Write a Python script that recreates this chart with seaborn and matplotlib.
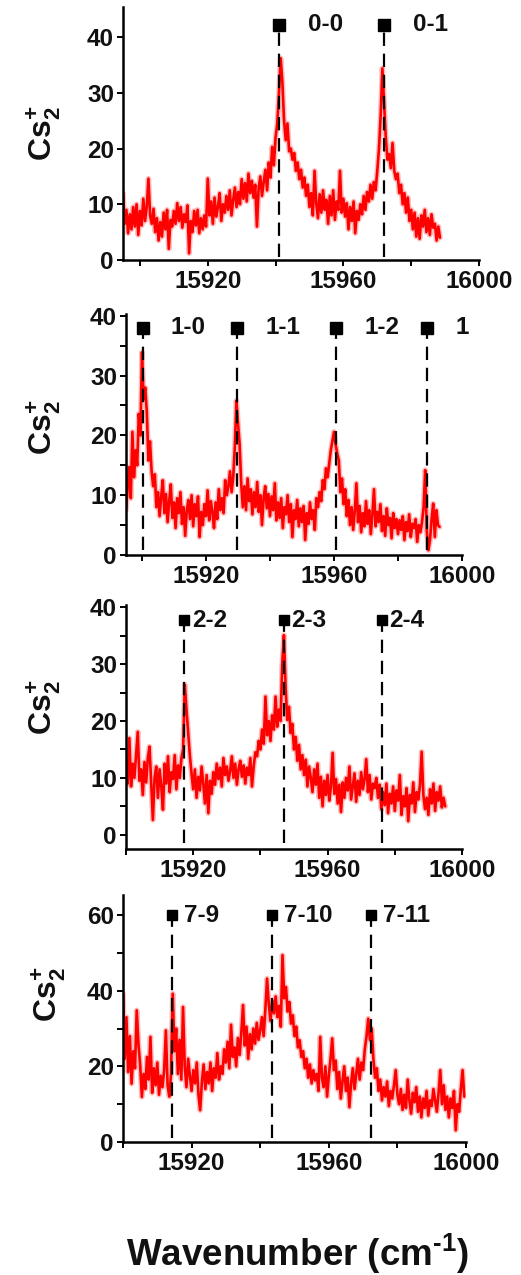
import numpy as np
import pandas as pd
import matplotlib
matplotlib.use("Agg")
import matplotlib.pyplot as plt
import seaborn as sns

# ---------------------------------------------------------------- data
# Cs2+ ion signal recorded on a uniform wavenumber grid (0.5 cm^-1 steps)
step = 0.5

p1_start = 15895.0
p1_signal = [
    12.0, 6.5, 9.0, 4.8, 8.2, 5.5, 9.5, 6.0, 10.0, 4.5,
    8.8, 6.2, 11.0, 7.0, 9.5, 14.6, 8.0, 6.5, 9.2, 5.0,
    7.5, 3.5, 6.8, 4.2, 8.5, 5.5, 9.0, 2.0, 7.2, 6.0,
    8.8, 6.5, 10.2, 7.0, 9.5, 5.8, 8.2, 6.8, 9.8, 1.2,
    7.0, 5.0, 8.8, 6.2, 9.0, 4.8, 7.5, 5.5, 8.0, 6.0,
    14.6, 8.0, 10.5, 6.5, 11.2, 7.8, 9.5, 12.0, 7.0, 10.0,
    8.5, 11.5, 9.0, 12.5, 8.0, 10.8, 13.0, 9.5, 12.2, 10.0,
    14.5, 11.0, 13.8, 10.5, 15.5, 12.0, 14.2, 11.2, 13.5, 6.0,
    12.8, 15.0, 11.5, 14.0, 16.2, 12.5, 17.5, 14.8, 20.3, 17.0,
    22.0, 24.5, 30.0, 36.2, 32.0, 25.0, 21.5, 24.5, 19.5, 20.0,
    18.0, 19.2, 16.0, 17.5, 14.5, 16.2, 13.0, 14.8, 11.5, 13.5,
    9.5, 12.0, 8.0, 16.0, 10.2, 7.5, 11.8, 8.5, 12.5, 9.0,
    10.8, 6.5, 11.5, 8.0, 12.5, 7.2, 10.5, 9.0, 16.0, 8.5,
    11.0, 7.8, 10.2, 5.5, 9.5, 7.0, 10.5, 4.8, 8.8, 7.2,
    10.0, 8.2, 11.5, 9.0, 12.2, 10.5, 13.5, 11.0, 14.0, 12.5,
    16.0, 20.0, 26.0, 34.4, 28.0, 22.0, 18.0, 19.0, 16.5, 21.0,
    16.0, 14.5, 15.5, 12.0, 13.5, 10.0, 12.0, 8.5, 11.2, 7.0,
    9.0, 5.5, 8.5, 4.2, 7.5, 3.8, 8.0, 6.0, 9.0, 5.0,
    7.5, 4.5, 8.2, 5.8, 6.5, 3.5, 6.0, 4.0,
]

p2_start = 15895.0
p2_signal = [
    7.5, 11.0, 14.7, 9.5, 20.6, 13.0, 17.5, 15.0, 23.6, 20.0,
    33.9, 26.0, 28.0, 24.0, 15.8, 19.0, 14.0, 11.5, 13.5, 8.0,
    10.5, 6.5, 9.8, 12.5, 7.0, 10.2, 5.5, 9.0, 11.8, 6.2,
    8.8, 4.5, 9.5, 7.0, 10.5, 5.2, 8.0, 3.2, 7.5, 9.2,
    6.0, 10.0, 4.8, 8.5, 6.5, 9.8, 3.0, 7.2, 5.0, 8.5,
    6.5, 10.8, 5.8, 9.0, 7.2, 4.5, 8.8, 6.0, 11.0, 7.5,
    9.5, 7.0, 12.5, 10.0, 11.5, 14.0, 10.5, 13.0, 18.0, 25.8,
    22.0, 18.6, 12.0, 8.0, 11.5, 7.5, 12.8, 9.0, 11.0, 6.8,
    10.5, 8.0, 12.2, 7.2, 10.0, 5.0, 9.5, 11.5, 7.8, 10.2,
    6.5, 9.8, 7.5, 12.0, 5.8, 8.8, 6.2, 9.5, 4.5, 8.0,
    6.8, 10.0, 5.5, 8.5, 3.0, 7.5, 6.0, 9.2, 4.8, 7.8,
    5.5, 8.2, 2.5, 7.0, 5.2, 8.8, 6.0, 7.5, 4.2, 9.5,
    8.0, 10.5, 9.0, 12.5, 11.0, 14.5, 13.0, 15.3, 17.5, 19.0,
    20.6, 18.5, 17.0, 15.8, 10.5, 12.8, 8.5, 11.0, 6.5, 9.2,
    5.0, 8.0, 4.2, 7.5, 12.0, 5.5, 8.2, 3.8, 7.0, 4.8,
    9.0, 5.2, 7.5, 3.5, 6.8, 11.0, 4.8, 7.2, 5.5, 8.5,
    4.0, 6.5, 3.2, 7.8, 5.0, 6.2, 2.8, 7.0, 4.5, 6.0,
    3.5, 5.8, 4.2, 6.5, 2.5, 5.5, 4.0, 6.8, 3.0, 5.2,
    4.5, 6.0, 2.2, 5.0, 3.8, 5.5, 8.0, 14.2, 4.0, 0.8,
    2.5, 6.0, 8.6, 3.0, 7.5, 5.0, 4.7,
]

p3_start = 15900.0
p3_signal = [
    13.0, 9.0, 17.0, 8.5, 12.5, 10.0, 14.0, 18.1, 9.5, 11.5,
    7.0, 12.8, 9.2, 13.5, 15.5, 9.0, 2.6, 10.0, 12.0, 6.5,
    11.5, 8.5, 4.4, 12.5, 9.0, 13.8, 7.5, 11.0, 9.8, 14.0,
    8.0, 12.2, 10.0, 13.5, 15.0, 26.4, 22.0, 17.9, 14.0, 10.8,
    8.0, 11.5, 6.5, 10.2, 7.8, 12.0, 9.0, 5.5, 10.5, 3.8,
    9.5, 7.2, 11.0, 8.8, 12.5, 9.8, 11.8, 8.5, 13.5, 10.5,
    12.0, 9.5, 11.2, 13.8, 10.0, 12.5, 8.8, 11.5, 13.0, 10.2,
    12.2, 9.0, 11.8, 10.5, 13.5, 8.5, 12.0, 14.5, 13.8, 16.5,
    15.0, 18.5, 16.0, 24.3, 17.5, 20.0, 16.5, 21.0, 18.5, 24.3,
    19.0, 22.0, 20.0, 30.0, 35.1, 26.0, 20.2, 22.5, 17.9, 19.5,
    15.0, 17.2, 13.0, 15.8, 11.5, 14.0, 10.5, 13.2, 8.5, 12.0,
    10.0, 7.5, 11.5, 8.8, 12.5, 6.5, 10.2, 5.0, 9.5, 7.0,
    10.5, 6.0, 8.5, 14.4, 7.2, 9.8, 5.5, 8.8, 4.0, 9.2,
    6.5, 10.0, 7.8, 12.0, 6.2, 8.5, 10.8, 5.8, 9.5, 7.0,
    11.0, 8.0, 9.8, 13.3, 7.5, 10.5, 6.2, 9.0, 8.2, 10.0,
    6.5, 8.8, 4.5, 7.5, 5.2, 9.0, 3.8, 7.2, 5.5, 8.5,
    4.2, 7.8, 6.0, 10.5, 3.5, 6.8, 5.0, 8.2, 2.4, 7.0,
    5.5, 9.2, 4.0, 7.5, 6.2, 8.8, 14.6, 7.0, 4.5, 6.5,
    3.5, 8.0, 5.5, 9.0, 4.2, 7.5, 6.0, 8.5, 4.8, 6.5, 5.0,
]

p4_start = 15900.0
p4_signal = [
    39.2, 22.0, 33.0, 18.5, 28.0, 15.4, 24.0, 19.5, 34.8, 26.0,
    20.5, 11.9, 18.0, 14.0, 22.5, 16.5, 27.8, 13.0, 19.5, 15.0,
    21.0, 12.5, 17.5, 14.5, 19.0, 29.5, 15.0, 12.0, 18.0, 39.2,
    24.0, 30.0, 18.0, 27.0, 16.5, 35.7, 20.0, 14.5, 22.0, 17.5,
    13.5, 19.0, 15.5, 21.0, 12.5, 8.4, 16.0, 20.5, 14.0, 18.5,
    15.5, 21.0, 13.5, 19.5, 17.0, 23.5, 16.5, 20.0, 18.0, 24.5,
    21.0, 26.5, 19.5, 31.0, 22.5, 25.0, 20.0, 27.5, 23.0, 29.0,
    36.2, 25.5, 30.5, 22.0, 28.5, 24.5, 30.0, 26.0, 31.5, 27.0,
    29.5, 33.0, 28.0, 35.0, 43.2, 36.5, 32.0, 37.5, 34.0, 38.5,
    33.0, 36.0, 30.5, 49.4, 38.0, 41.0, 34.5, 37.0, 31.3, 33.5,
    28.0, 30.5, 25.0, 26.9, 22.5, 24.0, 19.5, 22.0, 17.0, 20.5,
    15.5, 19.0, 16.3, 18.0, 13.5, 27.8, 17.0, 14.5, 20.0, 12.0,
    17.5, 22.0, 27.4, 19.0, 21.5, 14.0, 18.5, 11.5, 16.0, 20.0,
    13.5, 17.0, 9.2, 15.5, 19.5, 14.0, 18.0, 22.0, 16.5, 21.0,
    19.0, 24.5, 28.0, 32.6, 27.0, 30.0, 22.0, 17.0, 19.5, 13.5,
    16.5, 11.0, 14.5, 12.0, 16.0, 9.5, 13.5, 11.5, 15.0, 19.0,
    12.5, 10.0, 14.0, 8.5, 12.5, 9.0, 16.5, 11.0, 7.5, 13.0,
    10.5, 14.5, 8.0, 12.0, 6.5, 11.5, 9.0, 13.5, 7.0, 11.0,
    9.5, 14.0, 11.0, 8.0, 13.0, 19.0, 10.0, 15.0, 8.5, 12.0,
    6.5, 11.5, 9.0, 13.5, 3.1, 10.0, 8.0, 14.0, 19.0, 12.0,
]

# band-head assignments (v'-v") and their positions in cm^-1
p1_lines = [15941.1, 15972.0]
p1_names = ["0-0", "0-1"]
p2_lines = [15900.2, 15929.8, 15960.7, 15989.2]
p2_names = ["1-0", "1-1", "1-2", "1"]
p3_lines = [15917.4, 15946.9, 15976.2]
p3_names = ["2-2", "2-3", "2-4"]
p4_lines = [15914.4, 15943.3, 15972.2]
p4_names = ["7-9", "7-10", "7-11"]

# y-range and y ticks of each panel
p1_ylim, p1_yticks, p1_ymarks = (0, 45.4), [0, 10, 20, 30, 40], 42.2
p2_ylim, p2_yticks, p2_ymarks = (0, 40.3), [0, 10, 20, 30, 40], 38.0
p3_ylim, p3_yticks, p3_ymarks = (-2.5, 40.4), [0, 10, 20, 30, 40], 37.7
p4_ylim, p4_yticks, p4_ymarks = (0, 65.3), [0, 20, 40, 60], 60.0

x_major = [15920, 15960, 16000]
x_minor = [15900, 15940, 15980]

# ---------------------------------------------------------------- style
sns.set_theme(style="ticks")
plt.rcParams["font.family"] = ["Liberation Sans", "DejaVu Sans"]
plt.rcParams["font.weight"] = "bold"
plt.rcParams["mathtext.fontset"] = "custom"
plt.rcParams["mathtext.rm"] = "Liberation Sans:bold"
plt.rcParams["mathtext.bf"] = "Liberation Sans:bold"
plt.rcParams["mathtext.it"] = "Liberation Sans:bold"

W, H = 521, 1275
fig = plt.figure(figsize=(W / 100, H / 100), dpi=100)
ink = "#111111"


def add_axes_px(left, right, top, bottom):
    return fig.add_axes([left / W, 1 - bottom / H, (right - left) / W, (bottom - top) / H])


panels = [
    dict(box=(123, 479, 7, 260), start=p1_start, sig=p1_signal, xlim=(15895, 16000),
         ylim=p1_ylim, yticks=p1_yticks, yminor=[], lines=p1_lines, names=p1_names,
         ymark=p1_ymarks, gap=8.6, msize=9, vbottom=0.5, lab=(63, 0.50)),
    dict(box=(126, 462, 314, 555), start=p2_start, sig=p2_signal, xlim=(15895, 16000),
         ylim=p2_ylim, yticks=p2_yticks, yminor=[5, 15, 25, 35], lines=p2_lines,
         names=p2_names, ymark=p2_ymarks, gap=8.8, msize=8.5, vbottom=0.8, lab=(63, 0.53)),
    dict(box=(126, 462, 605, 849), start=p3_start, sig=p3_signal, xlim=(15900, 16000),
         ylim=p3_ylim, yticks=p3_yticks, yminor=[5, 15, 25, 35], lines=p3_lines,
         names=p3_names, ymark=p3_ymarks, gap=2.2, msize=7, vbottom=-1.4, lab=(63, 0.58)),
    dict(box=(123, 466, 895, 1142), start=p4_start, sig=p4_signal, xlim=(15900, 16000),
         ylim=p4_ylim, yticks=p4_yticks, yminor=[10, 30, 50], lines=p4_lines,
         names=p4_names, ymark=p4_ymarks, gap=3.5, msize=7.5, vbottom=1.0, lab=(68, 0.60)),
]

for p in panels:
    ax = add_axes_px(*p["box"])
    sig = np.asarray(p["sig"], dtype=float)
    wn = p["start"] + step * np.arange(sig.size)
    df = pd.DataFrame({"wavenumber": wn, "signal": sig})
    # soft halo under the trace, then the trace itself
    sns.lineplot(data=df, x="wavenumber", y="signal", ax=ax, color="#ff8a8a",
                 linewidth=4.0, estimator=None, sort=False, alpha=0.55)
    sns.lineplot(data=df, x="wavenumber", y="signal", ax=ax, color="#ff0000",
                 linewidth=1.9, estimator=None, sort=False)

    for xv, name in zip(p["lines"], p["names"]):
        ax.plot([xv, xv], [p["vbottom"], p["ymark"]], color="black", lw=1.6,
                linestyle=(0, (6, 3.5)), zorder=3)
        ax.plot([xv], [p["ymark"]], marker="s", color="black", markersize=p["msize"],
                linestyle="none", zorder=4, clip_on=False)
        ax.text(xv + p["gap"], p["ymark"], name, ha="left", va="center",
                fontsize=17.5, fontweight="bold", color=ink, clip_on=False)

    ax.set_xlim(*p["xlim"])
    ax.set_ylim(*p["ylim"])
    ax.set_xticks(x_major)
    ax.set_xticks(x_minor, minor=True)
    ax.set_yticks(p["yticks"])
    ax.set_yticks(p["yminor"], minor=True)
    ax.tick_params(axis="both", which="both", direction="out", length=4.5,
                   width=1.4, color="black", labelsize=17.5, pad=2)
    ax.tick_params(axis="x", which="major", pad=3)
    for lab in ax.get_xticklabels() + ax.get_yticklabels():
        lab.set_fontweight("bold")
        lab.set_color(ink)
    sns.despine(ax=ax)
    for side in ("left", "bottom"):
        ax.spines[side].set_linewidth(1.8)
        ax.spines[side].set_color("black")
    ax.set_xlabel("")
    ax.set_ylabel(r"Cs$_{2}^{+}$", fontsize=23, fontweight="bold", color=ink)
    left, right = p["box"][0], p["box"][1]
    ax.yaxis.set_label_coords((p["lab"][0] - left) / (right - left), p["lab"][1])

fig.text(297 / W, 1 - 1266 / H, "Wavenumber (cm$^{\u2010 1}$)", ha="center",
         va="baseline", fontsize=26.5, fontweight="bold", color=ink)

fig.savefig("out.png", dpi=100, facecolor="white")
